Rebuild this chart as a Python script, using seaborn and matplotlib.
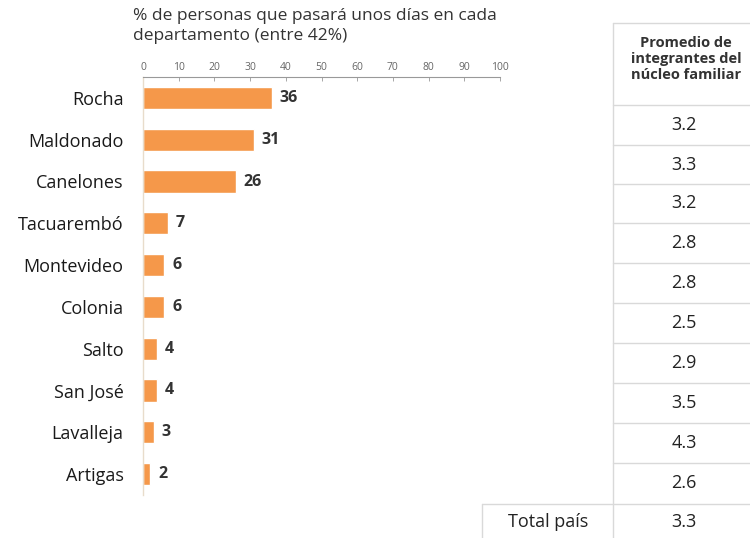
import matplotlib
matplotlib.use("Agg")
import matplotlib.pyplot as plt
import seaborn as sns
import pandas as pd
from matplotlib.lines import Line2D

departamentos = ["Rocha", "Maldonado", "Canelones", "Tacuarembó", "Montevideo",
                 "Colonia", "Salto", "San José", "Lavalleja", "Artigas"]
porcentaje = [36, 31, 26, 7, 6, 6, 4, 4, 3, 2]
promedio_familia = ["3.2", "3.3", "3.2", "2.8", "2.8", "2.5", "2.9", "3.5", "4.3", "2.6"]
total_pais = "3.3"
titulo = "% de personas que pasará unos días en cada\ndepartamento (entre 42%)"
encabezado_tabla = "Promedio de\nintegrantes del\nnúcleo familiar"

df = pd.DataFrame({"dep": departamentos, "pct": porcentaje})

sns.set_style("white")
plt.rcParams["font.family"] = ["Open Sans", "DejaVu Sans"]

W, H = 750, 538
fig = plt.figure(figsize=(7.5, 5.38), dpi=100)
ax = fig.add_axes([143 / W, 1 - 495 / H, (500 - 143) / W, (495 - 77) / H])

sns.barplot(data=df, x="pct", y="dep", color="#F5984A", width=0.53,
            saturation=1, ax=ax, orient="h")

ax.set_xlim(0, 100)
ax.set_xticks(range(0, 101, 10))
ax.xaxis.tick_top()
ax.tick_params(axis="x", labelsize=7.5, labelcolor="#666666", color="#999999",
               length=3, width=0.6, pad=3, direction="in")
ax.tick_params(axis="y", labelsize=13, labelcolor="#1a1a1a", length=0, pad=14)
ax.set_xlabel("")
ax.set_ylabel("")
for s in ["right", "bottom"]:
    ax.spines[s].set_visible(False)
ax.spines["top"].set_color("#999999")
ax.spines["top"].set_linewidth(0.8)
ax.spines["left"].set_color("#E8DCCB")
ax.spines["left"].set_linewidth(1)

for i, v in enumerate(porcentaje):
    ax.text(v + 2.2, i, str(v), va="center", ha="left", fontsize=11.5,
            fontweight="bold", color="#333333")

fig.text(133 / W, 1 - 8 / H, titulo, ha="left", va="top", fontsize=12.5,
         color="#333333", linespacing=1.3)

# tabla a la derecha
grid = "#D9D9D9"
bordes = [105, 145, 184, 223, 263, 303, 343, 383, 423, 463, 504]
def fy(p):
    return 1 - p / H

fig.add_artist(Line2D([613 / W, 613 / W], [fy(23), fy(538)], color=grid, lw=1))
fig.add_artist(Line2D([613 / W, 1], [fy(23), fy(23)], color=grid, lw=1))
for b in bordes:
    fig.add_artist(Line2D([613 / W, 1], [fy(b), fy(b)], color=grid, lw=1))
fig.add_artist(Line2D([482 / W, 613 / W], [fy(504), fy(504)], color=grid, lw=1))
fig.add_artist(Line2D([482 / W, 482 / W], [fy(504), fy(538)], color=grid, lw=1))

fig.text(686 / W, fy(59), encabezado_tabla, ha="center", va="center",
         fontsize=10.5, fontweight="bold", color="#333333", linespacing=1.2)
for i, val in enumerate(promedio_familia):
    yc = (bordes[i] + bordes[i + 1]) / 2
    fig.text(684 / W, fy(yc), val, ha="center", va="center", fontsize=13,
             color="#222222")
fig.text(684 / W, fy(522), total_pais, ha="center", va="center", fontsize=13,
         color="#222222")
fig.text(548 / W, fy(522), "Total país", ha="center", va="center", fontsize=13,
         color="#222222")

fig.savefig("out.png", dpi=100)
